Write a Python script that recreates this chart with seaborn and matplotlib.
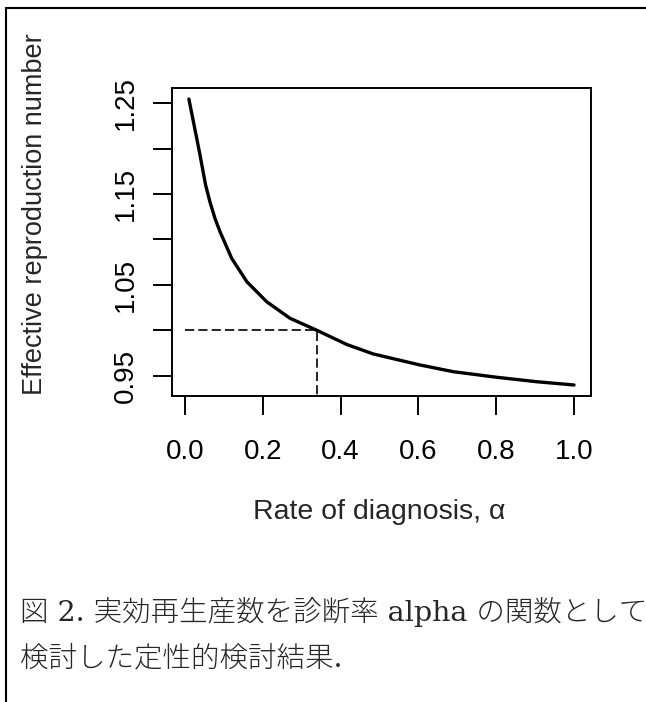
import matplotlib
matplotlib.use("Agg")
import matplotlib.pyplot as plt
from matplotlib.lines import Line2D
import pandas as pd
import seaborn as sns

# values
ALPHA = [0.010, 0.037, 0.053, 0.064, 0.077, 0.090, 0.120, 0.159, 0.210, 0.270,
         0.340, 0.416, 0.484, 0.604, 0.690, 0.801, 0.904, 1.000]
R_EFF = [1.2544, 1.1965, 1.1599, 1.1415, 1.1233, 1.1086, 1.0793, 1.0536, 1.0316, 1.0134,
         1.0000, 0.9846, 0.9742, 0.9621, 0.9547, 0.9486, 0.9437, 0.9401]

THRESH_ALPHA = 0.34
THRESH_R = 1.0

X_TICKS = [0.0, 0.2, 0.4, 0.6, 0.8, 1.0]
X_TICK_LABELS = ["0.0", "0.2", "0.4", "0.6", "0.8", "1.0"]
Y_TICKS = [0.95, 1.00, 1.05, 1.10, 1.15, 1.20, 1.25]
Y_TICK_LABELS = ["0.95", "", "1.05", "", "1.15", "", "1.25"]

X_LABEL = "Rate of diagnosis, \u03b1"
Y_LABEL = "Effective reproduction number"
CAPTION_1 = "図 2. 実効再生産数を診断率 alpha の関数として"
CAPTION_2 = "検討した定性的検討結果."

W, H = 646, 702

sns.set_style("ticks")
plt.rcParams["font.family"] = ["Liberation Sans", "DejaVu Sans"]

df = pd.DataFrame({"alpha": ALPHA, "reff": R_EFF})

fig = plt.figure(figsize=(W / 100, H / 100), dpi=100)
ax = fig.add_axes([172 / W, 1 - 396 / H, (591 - 172) / W, (396 - 88) / H])

sns.lineplot(data=df, x="alpha", y="reff", ax=ax, color="black", linewidth=2.4,
             solid_joinstyle="round", solid_capstyle="round")
ax.hlines(THRESH_R, 0.0, THRESH_ALPHA, colors="black", linewidth=1.2,
          linestyles=(0, (5.5, 2.5)))
ax.vlines(THRESH_ALPHA, 0.9, THRESH_R, colors="black", linewidth=1.2,
          linestyles=(0, (5.5, 2.5)))

ax.set_xlim(-0.0334, 1.0437)
ax.set_ylim(0.928, 1.2665)
ax.set_xticks(X_TICKS)
ax.set_xticklabels(X_TICK_LABELS)
ax.set_yticks(Y_TICKS)
ax.set_yticklabels(Y_TICK_LABELS, rotation=90, va="center")
ax.tick_params(axis="both", length=13.7, width=1.4, color="black",
               labelsize=20, labelcolor="black")
ax.tick_params(axis="x", pad=17)
ax.tick_params(axis="y", pad=10)
ax.set_xlabel("")
ax.set_ylabel("")
for side in ax.spines.values():
    side.set_visible(True)
    side.set_linewidth(1.4)
    side.set_color("black")

fig.text(35 / W, 1 - 214 / H, Y_LABEL, rotation=90, ha="center", va="center",
         fontsize=19.5)
fig.text(379 / W, 1 - 512 / H, X_LABEL, ha="center", va="center", fontsize=20.5)

cap_font = ["DejaVu Serif", "Noto Sans CJK JP"]
fig.text(20 / W, 1 - 612 / H, CAPTION_1, ha="left", va="center", fontsize=20.5,
         family=cap_font, fontweight="light")
fig.text(20 / W, 1 - 659 / H, CAPTION_2, ha="left", va="center", fontsize=20.5,
         family=cap_font, fontweight="light")

# outer frame (left and top edges only)
fig.add_artist(Line2D([6 / W, 6 / W], [0, 1 - 8 / H], transform=fig.transFigure,
                      color="black", linewidth=1.5))
fig.add_artist(Line2D([6 / W, 1], [1 - 8 / H, 1 - 8 / H], transform=fig.transFigure,
                      color="black", linewidth=1.5))

fig.savefig("out.png", dpi=100)
